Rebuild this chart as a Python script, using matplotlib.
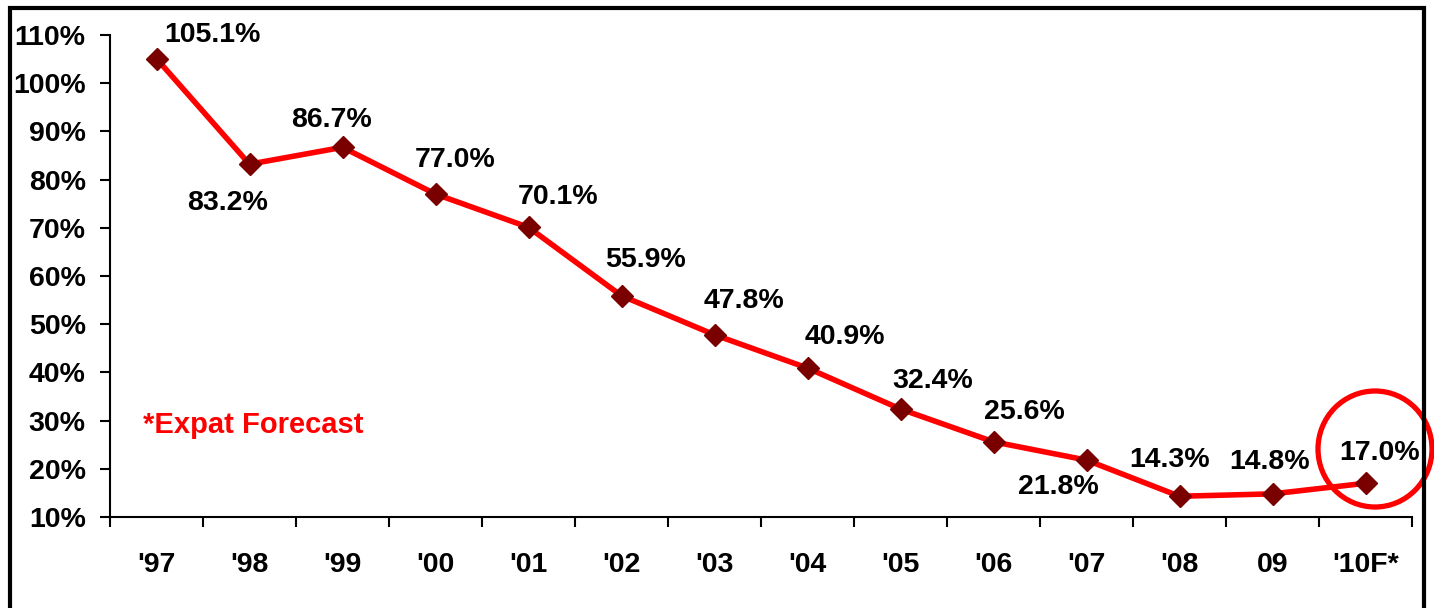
import matplotlib.pyplot as plt
from matplotlib.patches import Ellipse, Rectangle
import numpy as np

plt.rcParams['font.family'] = ['Liberation Sans', 'DejaVu Sans']
plt.rcParams['font.weight'] = 'bold'

years = ["'97", "'98", "'99", "'00", "'01", "'02", "'03", "'04", "'05",
         "'06", "'07", "'08", "09", "'10F*"]
values = [105.1, 83.2, 86.7, 77.0, 70.1, 55.9, 47.8, 40.9, 32.4,
          25.6, 21.8, 14.3, 14.8, 17.0]

# label offsets from each point, in pixels
label_dx = [56, -22, -11, 20, 30, 24, 30, 37, 32, 31, -28, -10, -3, 14]
label_dy = [24, -39, 27, 34, 30, 36, 34, 31, 28, 30, -27, 36, 32, 30]

fig = plt.figure(figsize=(14.34, 6.08), dpi=100)
ax = fig.add_axes([110 / 1434, 91 / 608, 1302 / 1434, 482 / 608])

x = np.arange(len(years))
ax.plot(x, values, color='#ff0000', linewidth=4, marker='D',
        markersize=11.5, markerfacecolor='#7a0000', markeredgecolor='#7a0000',
        zorder=3)

for xi, v, dx, dy in zip(x, values, label_dx, label_dy):
    ax.annotate(f'{v:.1f}%', xy=(xi, v), xytext=(dx, dy),
                textcoords='offset pixels', ha='center', va='center',
                fontsize=20.5, fontweight='bold', color='black')

ax.set_xlim(-0.5, len(years) - 0.5)
ax.set_ylim(10, 110)
ax.set_yticks(np.arange(10, 111, 10))
ax.set_yticklabels([f'{t}%' for t in range(10, 111, 10)])
ax.set_xticks(x)
ax.set_xticklabels(years)
ax.set_xticks(np.arange(-0.5, len(years), 1), minor=True)

ax.tick_params(axis='y', direction='out', length=7.5, width=1.5,
               pad=10, labelsize=20.5)
ax.tick_params(axis='x', which='major', length=0, pad=25, labelsize=20.5)
ax.tick_params(axis='x', which='minor', direction='out', length=7.5,
               width=1.5)

for side in ['top', 'right']:
    ax.spines[side].set_visible(False)
for side in ['left', 'bottom']:
    ax.spines[side].set_linewidth(1.5)

ax.text(0.025, 0.19, '*Expat Forecast', transform=ax.transAxes,
        color='#ff0000', fontsize=21, fontweight='bold',
        ha='left', va='center')

# ring around the forecast year
ring = Ellipse((1375 / 1434, (608 - 449) / 608), 114 / 1434, 116 / 608,
               transform=fig.transFigure, fill=False, edgecolor='#ff0000',
               linewidth=3.8, zorder=5)
fig.add_artist(ring)

# outer frame
frame = Rectangle((9.5 / 1434, -0.05), 1414 / 1434, (608 - 7.5) / 608 + 0.05,
                  transform=fig.transFigure, fill=False, edgecolor='black',
                  linewidth=3, zorder=6)
fig.add_artist(frame)

fig.savefig('out.png', dpi=100)
